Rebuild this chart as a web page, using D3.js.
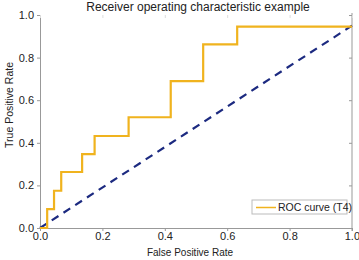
<!DOCTYPE html>
<html>
<head>
<meta charset="utf-8">
<script src="https://cdn.jsdelivr.net/npm/d3@7"></script>
<style>
  body { margin: 0; background: #fff; }
  text { font-family: "Liberation Sans", Arial, sans-serif; fill: #222; }
</style>
</head>
<body>
<div id="chart"></div>
<script>
// ROC step points
var fpr = [0, 0.023, 0.023, 0.045, 0.045, 0.068, 0.068, 0.135, 0.135, 0.175, 0.175, 0.284, 0.284, 0.419, 0.419, 0.523, 0.523, 0.632, 0.632, 1.0];
var tpr = [0, 0, 0.089, 0.089, 0.175, 0.175, 0.263, 0.263, 0.347, 0.347, 0.432, 0.432, 0.52, 0.52, 0.69, 0.69, 0.862, 0.862, 0.945, 0.945];
// chance line
var diagX = [0, 1];
var diagY = [0, 0.95];
var ticks = [0, 0.2, 0.4, 0.6, 0.8, 1.0];

var w = 359, h = 260;
var margin = { top: 15, right: 7, bottom: 32, left: 40 };
var innerWidth = w - margin.left - margin.right;
var innerHeight = h - margin.top - margin.bottom;

var svg = d3.select("#chart").append("svg")
  .attr("width", w)
  .attr("height", h);

var g = svg.append("g")
  .attr("transform", "translate(" + margin.left + "," + margin.top + ")");

var xScale = d3.scaleLinear().domain([0, 1]).range([0, innerWidth]);
var yScale = d3.scaleLinear().domain([0, 1]).range([innerHeight, 0]);

var fmt = d3.format(".1f");

// axes
var xAxis = g.append("g")
  .attr("transform", "translate(0," + innerHeight + ")")
  .call(d3.axisBottom(xScale).tickValues(ticks).tickFormat(fmt).tickSizeOuter(0).tickSize(3).tickPadding(1.5));
var yAxis = g.append("g")
  .call(d3.axisLeft(yScale).tickValues(ticks).tickFormat(fmt).tickSizeOuter(0).tickSize(3).tickPadding(3));
// right side, inward ticks
var rAxis = g.append("g")
  .attr("transform", "translate(" + innerWidth + ",0)")
  .call(d3.axisRight(yScale).tickValues(ticks).tickSizeOuter(0).tickSize(-3));
// top, faint ticks
var tAxis = g.append("g")
  .call(d3.axisTop(xScale).tickValues(ticks).tickSizeOuter(0).tickSize(-3));
rAxis.selectAll("text").remove();
tAxis.selectAll("text").remove();
tAxis.selectAll("line").attr("stroke", "#ddd");
tAxis.select(".domain").attr("stroke", "none");

[xAxis, yAxis, rAxis].forEach(function(a) {
  a.select(".domain").attr("stroke", "#999");
  a.selectAll("line").attr("stroke", "#999");
});
rAxis.select(".domain").attr("d", "M0,-2V" + (innerHeight + 3));
[xAxis, yAxis].forEach(function(a) {
  a.selectAll("text").attr("font-size", "11px").attr("fill", "#222")
    .attr("font-family", "Liberation Sans, Arial, sans-serif");
});
// keep the last x label inside the window
xAxis.selectAll("text").filter(d => d === 1).attr("text-anchor", "end").attr("dx", "7.5");

// chance diagonal
g.append("path")
  .datum(d3.range(diagX.length))
  .attr("fill", "none")
  .attr("stroke", "#1c2a80")
  .attr("stroke-width", 2.2)
  .attr("stroke-dasharray", "8,6")
  .attr("d", d3.line().x(i => xScale(diagX[i])).y(i => yScale(diagY[i])));

// ROC curve
g.append("path")
  .datum(d3.range(fpr.length))
  .attr("fill", "none")
  .attr("stroke", "#f0b31e")
  .attr("stroke-width", 2.2)
  .attr("d", d3.line().x(i => xScale(fpr[i])).y(i => yScale(tpr[i])));

// title and labels
svg.append("text")
  .attr("x", 198)
  .attr("y", 11)
  .attr("text-anchor", "middle")
  .attr("font-size", "12px")
  .text("Receiver operating characteristic example");

svg.append("text")
  .attr("x", 190)
  .attr("y", 255.5)
  .attr("text-anchor", "middle")
  .attr("font-size", "10px")
  .text("False Positive Rate");

svg.append("text")
  .attr("transform", "translate(12.5,105) rotate(-90)")
  .attr("text-anchor", "middle")
  .attr("font-size", "10.5px")
  .text("True Positive Rate");

// legend
var legend = svg.append("g").attr("transform", "translate(252,200)");
legend.append("rect")
  .attr("width", 95)
  .attr("height", 14)
  .attr("fill", "#fff")
  .attr("stroke", "#bbb");
legend.append("line")
  .attr("x1", 4).attr("x2", 24)
  .attr("y1", 7.5).attr("y2", 7.5)
  .attr("stroke", "#f0b31e")
  .attr("stroke-width", 1.5);
legend.append("text")
  .attr("x", 26)
  .attr("y", 11)
  .attr("font-size", "10.5px")
  .text("ROC curve (T4)");
</script>
</body>
</html>
